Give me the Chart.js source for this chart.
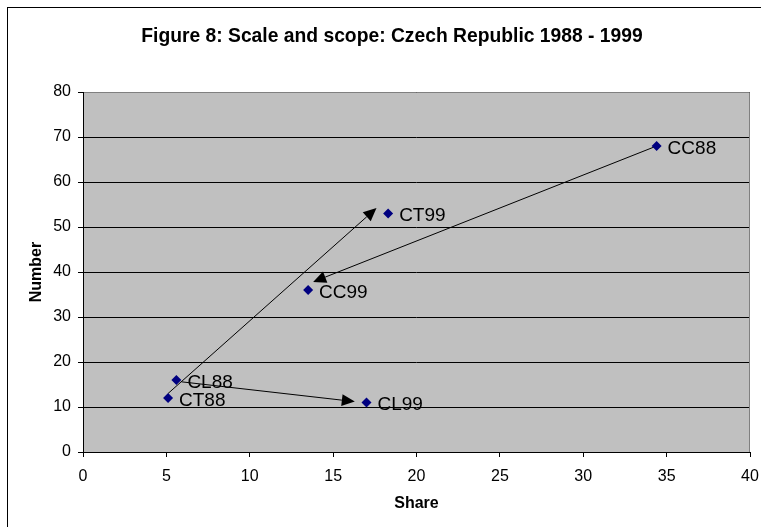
<!DOCTYPE html>
<html>
<head>
<meta charset="utf-8">
<script src="https://cdn.jsdelivr.net/npm/chart.js@4/dist/chart.umd.min.js"></script>
<style>
  html, body { margin: 0; padding: 0; background: #fff; }
  #wrap { width: 761px; height: 527px; position: relative; }
</style>
</head>
<body>
<div id="wrap"><canvas id="c" width="761" height="527"></canvas></div>
<script>
// Observations: market share (%) vs. number, by group and year
const pointLabels = ['CC88', 'CT99', 'CC99', 'CL88', 'CT88', 'CL99'];
const shareValues = [34.4, 18.3, 13.5, 5.6, 5.1, 17.0];
const numberValues = [68, 53, 36, 16, 12, 11];

// Arrows showing the shift from 1988 to 1999 (data units)
const arrowFromX = [34.4, 5.1, 5.9];
const arrowFromY = [68, 13, 15.6];
const arrowToX = [13.8, 17.6, 16.3];
const arrowToY = [37.8, 54.2, 11.2];

const xTicks = [0, 5, 10, 15, 20, 25, 30, 35, 40];
const yTicks = [0, 10, 20, 30, 40, 50, 60, 70, 80];

const titleText = 'Figure 8: Scale and scope: Czech Republic 1988 - 1999';
const FONT = "'Liberation Sans', Arial, sans-serif";

const points = shareValues.map((x, i) => ({ x: x, y: numberValues[i] }));

const decorations = {
  id: 'decorations',
  beforeDraw(chart) {
    const { ctx, chartArea: a } = chart;
    ctx.save();
    ctx.fillStyle = '#c0c0c0';
    ctx.fillRect(a.left, a.top, a.right - a.left, a.bottom - a.top);
    // outer frame
    ctx.strokeStyle = '#000';
    ctx.lineWidth = 1;
    ctx.strokeRect(7.5, 7.5, 800, 600);
    // title
    ctx.fillStyle = '#000';
    ctx.font = 'bold 19.3px ' + FONT;
    ctx.textAlign = 'center';
    ctx.textBaseline = 'alphabetic';
    ctx.fillText(titleText, 392, 41.5);
    ctx.restore();
  },
  beforeDatasetsDraw(chart) {
    const { ctx, chartArea: a } = chart;
    ctx.save();
    ctx.lineWidth = 1;
    ctx.strokeStyle = '#808080';
    ctx.beginPath();
    ctx.moveTo(Math.round(a.left) + 0.5, Math.round(a.top) + 0.5);
    ctx.lineTo(Math.round(a.right) - 0.5, Math.round(a.top) + 0.5);
    ctx.lineTo(Math.round(a.right) - 0.5, Math.round(a.bottom));
    ctx.stroke();
    ctx.strokeStyle = '#000';
    ctx.beginPath();
    ctx.moveTo(Math.round(a.left) + 0.5, Math.round(a.top));
    ctx.lineTo(Math.round(a.left) + 0.5, Math.round(a.bottom) + 0.5);
    ctx.lineTo(Math.round(a.right), Math.round(a.bottom) + 0.5);
    ctx.stroke();

    // arrows
    const xs = chart.scales.x, ys = chart.scales.y;
    ctx.fillStyle = '#000';
    for (let i = 0; i < arrowFromX.length; i++) {
      const x1 = xs.getPixelForValue(arrowFromX[i]);
      const y1 = ys.getPixelForValue(arrowFromY[i]);
      const x2 = xs.getPixelForValue(arrowToX[i]);
      const y2 = ys.getPixelForValue(arrowToY[i]);
      const ang = Math.atan2(y2 - y1, x2 - x1);
      const headLen = 13, headHalf = 6;
      const bx = x2 - headLen * Math.cos(ang);
      const by = y2 - headLen * Math.sin(ang);
      ctx.beginPath();
      ctx.moveTo(x1, y1);
      ctx.lineTo(bx, by);
      ctx.stroke();
      ctx.beginPath();
      ctx.moveTo(x2, y2);
      ctx.lineTo(bx + headHalf * Math.sin(ang), by - headHalf * Math.cos(ang));
      ctx.lineTo(bx - headHalf * Math.sin(ang), by + headHalf * Math.cos(ang));
      ctx.closePath();
      ctx.fill();
    }
    ctx.restore();
  },
  afterDatasetsDraw(chart) {
    const { ctx } = chart;
    const meta = chart.getDatasetMeta(0);
    ctx.save();
    ctx.fillStyle = '#000';
    ctx.font = '19px ' + FONT;
    ctx.textAlign = 'left';
    ctx.textBaseline = 'alphabetic';
    meta.data.forEach((el, i) => {
      ctx.fillText(pointLabels[i], el.x + 11, el.y + 7.5);
    });
    ctx.restore();
  }
};

new Chart(document.getElementById('c'), {
  type: 'scatter',
  data: {
    datasets: [{
      label: 'Groups',
      data: points,
      pointStyle: 'rectRot',
      pointRadius: 5,
      pointHoverRadius: 5,
      backgroundColor: '#000080',
      borderColor: '#000080',
      borderWidth: 0
    }]
  },
  options: {
    responsive: false,
    animation: false,
    events: [],
    layout: { padding: { top: 92, right: 11, bottom: 0, left: 0 } },
    plugins: { legend: { display: false }, tooltip: { enabled: false }, title: { display: false } },
    scales: {
      x: {
        type: 'linear',
        min: 0, max: 40,
        afterBuildTicks(scale) { scale.ticks = xTicks.map(v => ({ value: v })); },
        afterFit(scale) { scale.height = 75; scale.paddingLeft = 0; scale.paddingRight = 0; },
        border: { display: false },
        grid: { drawOnChartArea: false, drawTicks: true, tickLength: 5, color: '#000' },
        ticks: { color: '#000', font: { family: FONT, size: 16 }, padding: 10, maxRotation: 0 },
        title: { display: true, text: 'Share', color: '#000', font: { family: FONT, size: 16, weight: 'bold' }, padding: { top: 0, bottom: 14 } }
      },
      y: {
        type: 'linear',
        min: 0, max: 80,
        afterBuildTicks(scale) { scale.ticks = yTicks.map(v => ({ value: v })); },
        afterFit(scale) { scale.width = 83; scale.paddingTop = 0; scale.paddingBottom = 0; },
        border: { display: false },
        grid: { drawOnChartArea: true, drawTicks: true, tickLength: 5, color: '#000' },
        ticks: { color: '#000', font: { family: FONT, size: 16 }, padding: 7 },
        title: { display: true, text: 'Number', color: '#000', font: { family: FONT, size: 16, weight: 'bold' }, padding: { top: 27, bottom: 0 } }
      }
    }
  },
  plugins: [decorations]
});
</script>
</body>
</html>
